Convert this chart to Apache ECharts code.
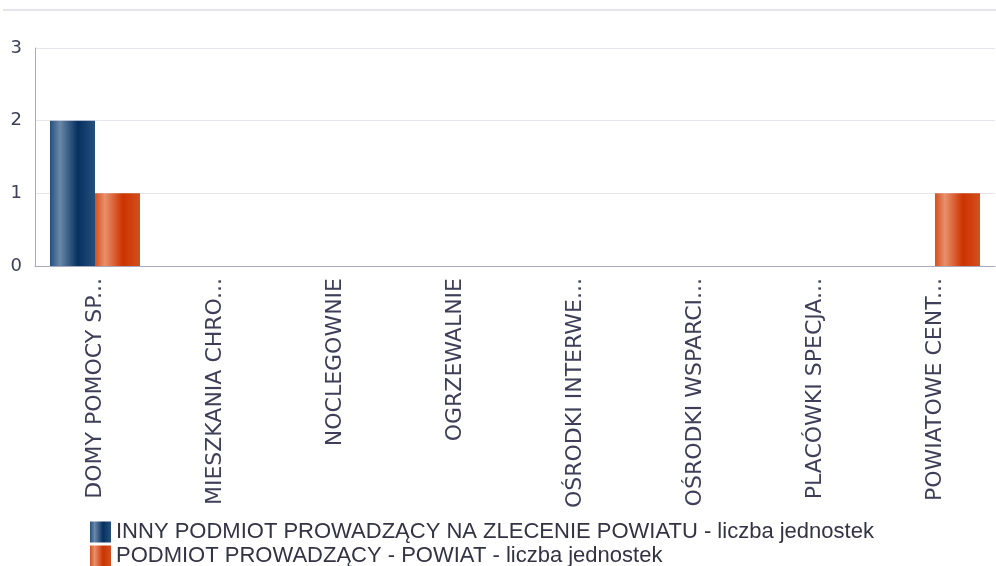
<!DOCTYPE html>
<html>
  <head>
    <meta charset="UTF-8">
    <title>Jednostki</title>
    <script src="https://cdn.jsdelivr.net/npm/echarts@6/dist/echarts.min.js"></script>
    <style>
      body { margin: 0; background: #fff; }
      #main { width: 996px; height: 566px; }
    </style>
  </head>
  <body>
    <div id="main"></div>
    <script type="text/javascript">
      // dane
      var categories = ['DOMY POMOCY SPOŁECZNEJ', 'MIESZKANIA CHRONIONE', 'NOCLEGOWNIE', 'OGRZEWALNIE',
        'OŚRODKI INTERWENCJI KRYZYSOWEJ', 'OŚRODKI WSPARCIA', 'PLACÓWKI SPECJALISTYCZNEGO PORADNICTWA',
        'POWIATOWE CENTRA POMOCY RODZINIE'];
      // etykiety osi tak jak na wykresie (skrócone)
      var tickLabels = ['DOMY POMOCY SP...', 'MIESZKANIA CHRO...', 'NOCLEGOWNIE', 'OGRZEWALNIE',
        'OŚRODKI INTERWE...', 'OŚRODKI WSPARCI...', 'PLACÓWKI SPECJA...', 'POWIATOWE CENT...'];
      var seriesNames = ['INNY PODMIOT PROWADZĄCY NA ZLECENIE POWIATU - liczba jednostek',
        'PODMIOT PROWADZĄCY - POWIAT - liczba jednostek'];
      var innyPodmiot = [2, 0, 0, 0, 0, 0, 0, 0];
      var powiat = [1, 0, 0, 0, 0, 0, 0, 1];

      function grad(c0, c1, c2, c3) {
        return new echarts.graphic.LinearGradient(0, 0, 1, 0, [
          { offset: 0, color: c0 },
          { offset: 0.22, color: c1 },
          { offset: 0.62, color: c2 },
          { offset: 1, color: c3 }
        ]);
      }

      function legendFor(name, top) {
        return {
          orient: 'horizontal',
          left: 90,
          top: top,
          padding: 0,
          itemWidth: 21,
          itemHeight: 21,
          icon: 'rect',
          textStyle: { fontFamily: 'Liberation Sans', fontSize: 22, color: '#333344' },
          data: [name]
        };
      }

      var chart = echarts.init(document.getElementById('main'));
      chart.setOption({
        animation: false,
        textStyle: { fontFamily: 'DejaVu Sans' },
        graphic: [{
          type: 'rect',
          shape: { x: 3, y: 9, width: 993, height: 2 },
          style: { fill: '#e4e4ec' }
        }],
        grid: { left: 35, right: 1, top: 48, bottom: 300 },
        legend: [legendFor(seriesNames[0], 521), legendFor(seriesNames[1], 545)],
        xAxis: {
          type: 'category',
          data: categories,
          axisLine: { lineStyle: { color: '#a8a8c0', width: 1 } },
          axisTick: { show: false },
          axisLabel: {
            rotate: 90,
            interval: 0,
            margin: 12,
            fontSize: 22,
            color: '#3e3e58',
            formatter: function (value, idx) { return tickLabels[idx]; }
          }
        },
        yAxis: {
          type: 'value',
          min: 0,
          max: 3,
          interval: 1,
          axisLine: { show: true, lineStyle: { color: '#a8a8c0' } },
          axisLabel: { fontSize: 18, color: '#3e3e58', margin: 13 },
          splitLine: { lineStyle: { color: '#e6e6ee' } }
        },
        series: [
          {
            name: seriesNames[0],
            type: 'bar',
            barWidth: 45,
            barGap: '0%',
            data: innyPodmiot,
            itemStyle: { color: grad('#24507e', '#6a88a8', '#06305f', '#24507e') }
          },
          {
            name: seriesNames[1],
            type: 'bar',
            barWidth: 45,
            data: powiat,
            itemStyle: { color: grad('#d3501f', '#e8906c', '#cc3300', '#d3501f') }
          }
        ]
      });
    </script>
  </body>
</html>
